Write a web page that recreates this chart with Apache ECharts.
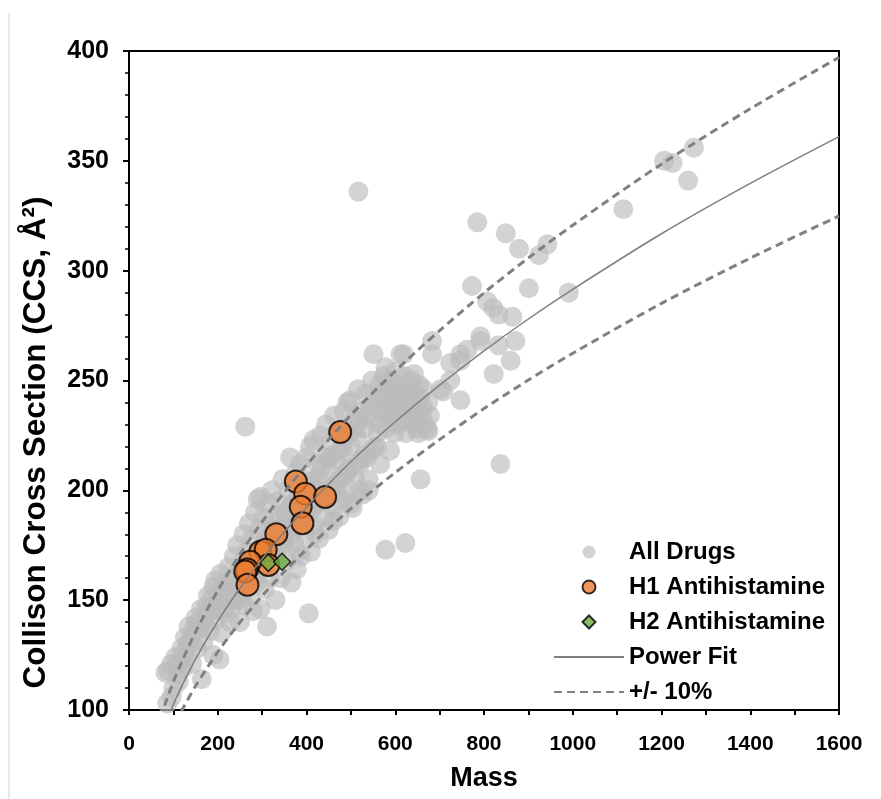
<!DOCTYPE html>
<html>
<head>
<meta charset="utf-8">
<title>CCS vs Mass</title>
<script src="https://cdn.jsdelivr.net/npm/echarts@6/dist/echarts.min.js"></script>
<style>
  html, body { margin: 0; padding: 0; background: #fff; }
  #chart { width: 881px; height: 799px; }
</style>
</head>
<body>
<div id="chart"></div>
<script>
// values: [mass, CCS]
const allDrugs = [
  [82, 117], [86, 103], [88, 118], [95, 121], [96, 106], [100, 110], [104, 124], [108, 121],
  [110, 116], [112, 113], [116, 122], [118, 128], [122, 119], [124, 126], [126, 133], [130, 125],
  [132, 130], [134, 138], [138, 130], [140, 133], [142, 121], [146, 135], [148, 138], [150, 142],
  [154, 128], [156, 140], [158, 137], [162, 146], [164, 114], [166, 138], [168, 131], [172, 142],
  [175, 147], [176, 144], [178, 152], [182, 136], [184, 150], [186, 145], [190, 125], [190, 156],
  [192, 146], [194, 159], [196, 141], [198, 154], [200, 150], [204, 123], [206, 162], [208, 135],
  [210, 152], [212, 146], [216, 158], [218, 144], [220, 152], [224, 165], [226, 156], [228, 140],
  [230, 146], [232, 160], [234, 155], [236, 170], [240, 150], [242, 158], [244, 175], [246, 163],
  [246, 150], [250, 140], [252, 156], [254, 152], [256, 168], [258, 180], [258, 162], [260, 148],
  [262, 229], [264, 172], [266, 160], [266, 166], [270, 185], [270, 158], [272, 152], [276, 166],
  [278, 178], [278, 160], [280, 145], [282, 170], [284, 190], [286, 170], [288, 158], [290, 196],
  [290, 172], [292, 182], [294, 163], [296, 197], [296, 146], [298, 165], [302, 175], [302, 166],
  [304, 188], [306, 155], [306, 176], [310, 170], [311, 138], [314, 194], [314, 178], [316, 182],
  [318, 160], [318, 170], [322, 200], [324, 176], [326, 172], [328, 187], [330, 150], [330, 182],
  [334, 170], [336, 195], [338, 186], [340, 182], [342, 160], [342, 175], [346, 205], [348, 176],
  [350, 178], [352, 190], [354, 189], [356, 168], [358, 200], [362, 183], [362, 192], [363, 215],
  [366, 158], [366, 180], [370, 194], [372, 176], [374, 184], [376, 208], [378, 164], [378, 196],
  [380, 172], [382, 186], [386, 212], [386, 186], [388, 170], [390, 198], [392, 200], [396, 180],
  [398, 188], [400, 215], [402, 202], [404, 190], [405, 144], [408, 220], [410, 172], [410, 204],
  [414, 205], [414, 192], [416, 223], [418, 184], [420, 180], [422, 196], [422, 194], [426, 212],
  [426, 206], [428, 178], [432, 225], [434, 200], [434, 210], [438, 188], [438, 197], [442, 215],
  [444, 230], [446, 199], [448, 196], [450, 182], [450, 214], [454, 208], [456, 222], [458, 216],
  [460, 192], [460, 186], [462, 234], [462, 202], [466, 214], [468, 200], [470, 204], [472, 226],
  [474, 188], [474, 218], [478, 206], [480, 196], [482, 218], [482, 222], [484, 236], [486, 206],
  [488, 198], [490, 228], [492, 240], [494, 210], [494, 209], [498, 241], [498, 226], [500, 220],
  [500, 194], [504, 192], [506, 232], [506, 211], [510, 205], [510, 228], [514, 224], [516, 246],
  [517, 336], [518, 232], [520, 212], [520, 200], [522, 214], [524, 236], [526, 198], [530, 228],
  [530, 216], [534, 244], [534, 234], [536, 215], [540, 205], [540, 200], [542, 238], [544, 232],
  [546, 218], [548, 250], [551, 262], [552, 220], [554, 242], [556, 240], [558, 220], [560, 226],
  [564, 248], [566, 212], [566, 230], [570, 236], [570, 244], [574, 252], [578, 256], [578, 173],
  [578, 238], [580, 228], [582, 234], [584, 244], [588, 218], [590, 250], [590, 240], [594, 234],
  [594, 246], [598, 226], [600, 254], [602, 236], [604, 240], [606, 230], [608, 248], [612, 243],
  [612, 262], [614, 238], [616, 232], [618, 246], [619, 262], [620, 252], [623, 176], [624, 226],
  [626, 232], [628, 244], [630, 240], [632, 236], [636, 250], [638, 246], [640, 230], [642, 253],
  [642, 236], [646, 240], [649, 228], [650, 234], [652, 226], [654, 248], [656, 242], [657, 205],
  [660, 234], [662, 238], [664, 246], [666, 230], [672, 228], [674, 240], [675, 227], [678, 234],
  [683, 268], [683, 262], [702, 246], [708, 245], [724, 258], [724, 250], [747, 262], [747, 259],
  [747, 241], [762, 264], [773, 293], [785, 322], [792, 270], [792, 268], [807, 286], [821, 283],
  [822, 253], [833, 280], [833, 266], [837, 212], [849, 317], [860, 259], [864, 279], [871, 268],
  [879, 310], [901, 292], [924, 307], [943, 312], [991, 290], [1114, 328], [1206, 350], [1225, 349],
  [1260, 341], [1273, 356]
];
const h1Anti = [
  [476, 226.5], [376, 204], [397, 198.5], [442, 197], [387, 192.5], [391, 185], [332, 180],
  [296, 172], [308, 173], [314, 166], [273, 167.5], [266, 164], [262, 163], [267, 157]
];
const h2Anti = [[314, 167], [345, 167.5]];

// fitted curve and +/- 10% band, read at these masses
const fitMass = [80, 90, 100, 120, 150, 200, 250, 300, 350, 400, 500, 600, 700, 800, 900, 1000, 1200, 1400, 1600];
const fitCCS = [92.6, 97.7, 102.5, 111.3, 123.2, 140.4, 155.4, 168.8, 181.0, 192.3, 213.0, 231.2, 247.9, 263.5, 278.0, 291.5, 316.8, 339.7, 361.0];
const upperCCS = [101.9, 107.5, 112.8, 122.4, 135.5, 154.4, 170.9, 185.7, 199.1, 211.5, 234.3, 254.3, 272.7, 289.9, 305.8, 320.7, 348.5, 373.7, 397.1];
const lowerCCS = [83.3, 87.9, 92.3, 100.2, 110.9, 126.4, 139.9, 151.9, 162.9, 173.1, 191.7, 208.1, 223.1, 237.2, 250.2, 262.4, 285.1, 305.7, 324.9];

const pair = (xs, ys) => xs.map((x, i) => [x, ys[i]]);
const font = 'Liberation Sans';
const noDot = { opacity: 0, borderWidth: 0 };
// square diamond path so the legend keeps its aspect
const diamond = 'path://M0,1L1,0L2,1L1,2Z';

const chart = echarts.init(document.getElementById('chart'));
chart.setOption({
  backgroundColor: '#fff',
  animation: false,
  grid: {
    left: 129, right: 42, top: 51, bottom: 89,
    show: true, borderColor: '#000', borderWidth: 2
  },
  graphic: [{
    type: 'line',
    shape: { x1: 9, y1: 13, x2: 9, y2: 799 },
    style: { stroke: '#d4d4d4', lineWidth: 1 }
  }],
  legend: {
    orient: 'vertical',
    left: 548, top: 535,
    itemWidth: 70, itemHeight: 13, itemGap: 11, itemTextGap: 6,
    symbolKeepAspect: true,
    textStyle: { fontFamily: font, fontWeight: 'bold', fontSize: 24, lineHeight: 24, color: '#000' },
    data: [
      'All Drugs', 'H1 Antihistamine',
      { name: 'H2 Antihistamine', icon: diamond },
      { name: 'Power Fit', itemStyle: noDot },
      { name: '+/- 10%', itemStyle: noDot }
    ]
  },
  xAxis: {
    type: 'value', min: 0, max: 1600, interval: 200,
    name: 'Mass', nameLocation: 'middle', nameGap: 55,
    nameTextStyle: { fontFamily: font, fontWeight: 'bold', fontSize: 27, color: '#000' },
    axisLine: { lineStyle: { color: '#000', width: 2 } },
    axisTick: { length: 5, lineStyle: { color: '#000', width: 2 } },
    minorTick: { show: true, splitNumber: 2, length: 5, lineStyle: { color: '#000', width: 2 } },
    splitLine: { show: false },
    axisLabel: { margin: 24, fontFamily: font, fontWeight: 'bold', fontSize: 21, color: '#000', formatter: v => String(v) }
  },
  yAxis: {
    type: 'value', min: 100, max: 400, interval: 50,
    name: 'Collison Cross Section (CCS, Å²)', nameLocation: 'middle', nameGap: 77,
    nameTextStyle: { fontFamily: font, fontWeight: 'bold', fontSize: 31.5, color: '#000', padding: [0, 124, 0, 0] },
    axisLine: { lineStyle: { color: '#000', width: 2 } },
    axisTick: { length: 6, lineStyle: { color: '#000', width: 2 } },
    minorTick: { show: true, splitNumber: 5, length: 4, lineStyle: { color: '#000', width: 1.5 } },
    splitLine: { show: false },
    axisLabel: { margin: 20, fontFamily: font, fontWeight: 'bold', fontSize: 25, color: '#000' }
  },
  series: [
    {
      name: 'All Drugs', type: 'scatter', data: allDrugs, symbolSize: 20,
      itemStyle: { color: '#bcbcbc', opacity: 0.65 }
    },
    {
      name: 'H1 Antihistamine', type: 'scatter', data: h1Anti, symbolSize: 22,
      itemStyle: { color: '#ED7D31', borderColor: '#000', borderWidth: 2 }
    },
    {
      name: 'H2 Antihistamine', type: 'scatter', data: h2Anti, symbol: diamond, symbolSize: 17,
      itemStyle: { color: '#70AD47', borderColor: '#000', borderWidth: 1.5 }
    },
    {
      name: 'Power Fit', type: 'line', data: pair(fitMass, fitCCS), symbol: 'none', smooth: 0.3,
      lineStyle: { color: '#7f7f7f', width: 1.5 }, itemStyle: { color: '#7f7f7f' }
    },
    {
      name: '+/- 10%', type: 'line', data: pair(fitMass, upperCCS), symbol: 'none', smooth: 0.3,
      lineStyle: { color: '#808080', width: 3, type: [8, 5] }, itemStyle: { color: '#808080' }
    },
    {
      name: '+/- 10%', type: 'line', data: pair(fitMass, lowerCCS), symbol: 'none', smooth: 0.3,
      lineStyle: { color: '#808080', width: 3, type: [8, 5] }, itemStyle: { color: '#808080' }
    }
  ]
});
</script>
</body>
</html>
